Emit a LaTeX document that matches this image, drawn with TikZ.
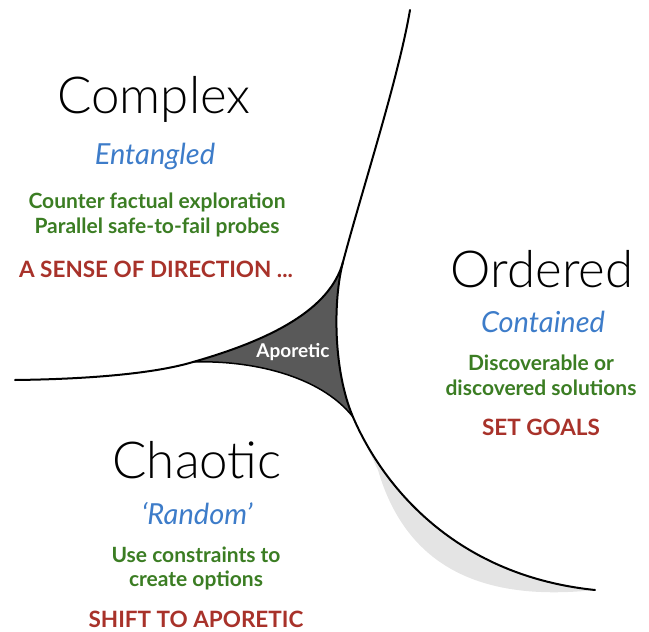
\documentclass[tikz,border=0pt]{standalone}
\usepackage{fontspec}
\setmainfont{Lato}
\newfontfamily\lightfont{Lato Light}
\definecolor{cblue}{HTML}{3D7CC9}
\definecolor{cgreen}{HTML}{3B7D23}
\definecolor{cred}{HTML}{A8322A}
\definecolor{apor}{HTML}{595959}
\definecolor{shadowgray}{HTML}{E4E4E4}
\begin{document}
\begin{tikzpicture}[x=1pt,y=-1pt,
  title/.style={anchor=base,inner sep=0pt,font=\fontsize{51}{55}\selectfont\lightfont},
  sub/.style={anchor=base,inner sep=0pt,text=cblue,font=\fontsize{29}{32}\selectfont\itshape},
  act/.style={anchor=base,inner sep=0pt,text=cgreen,font=\fontsize{21}{24}\selectfont\bfseries},
  goal/.style={anchor=base,inner sep=0pt,text=cred,font=\fontsize{22.5}{24}\selectfont\bfseries},
  curve/.style={line width=2pt,black,line cap=round}]
\useasboundingbox (0,0) rectangle (649,632);
% shadow
\fill[shadowgray] (353,417) .. controls (380,480) and (450,575) .. (595,590)
  .. controls (500,600) and (410,580) .. (378,470) -- cycle;
% aporetic region
\fill[apor] (193,362) .. controls (270,340) and (330,310) .. (343,262)
  .. controls (333,300) and (333,370) .. (353,417)
  .. controls (320,375) and (250,360) .. (193,362) -- cycle;
% curves
\draw[curve] (15,380) .. controls (100,379) and (160,372) .. (193,362)
  .. controls (270,340) and (330,310) .. (343,262)
  .. controls (362,190) and (398,80) .. (410,10);
\draw[curve] (343,262) .. controls (333,300) and (333,370) .. (353,417)
  .. controls (380,480) and (450,575) .. (595,590);
\draw[curve,line width=1.5pt] (193,362) .. controls (250,360) and (320,375) .. (353,417);
% texts
\node[title] (complex) at (154,113) {Complex};
\node[sub] (entangled) at (155,164) {Entangled};
\node[act] (cf1) at (157,208) {Counter factual exploration};
\node[act] (cf2) at (157,233) {Parallel safe-to-fail probes};
\node[goal] (dir) at (156,277) {A SENSE OF DIRECTION ...};
\node[title] (ordered) at (542,287) {Ordered};
\node[sub] (contained) at (543,332) {Contained};
\node[act] (disc1) at (541,370) {Discoverable or};
\node[act] (disc2) at (541,395) {discovered solutions};
\node[goal] (setgoals) at (541,435) {SET GOALS};
\node[title] (chaotic) at (197,478) {Chaotic};
\node[sub] (random) at (197,524) {‘Random’};
\node[act] (use1) at (196,562) {Use constraints to};
\node[act] (use2) at (196,586) {create options};
\node[goal] (shift) at (196,627) {SHIFT TO APORETIC};
\node[anchor=base,inner sep=0pt,text=white,font=\fontsize{19}{22}\selectfont\bfseries] (aporetic) at (293,357) {Aporetic};
\end{tikzpicture}
\end{document}
